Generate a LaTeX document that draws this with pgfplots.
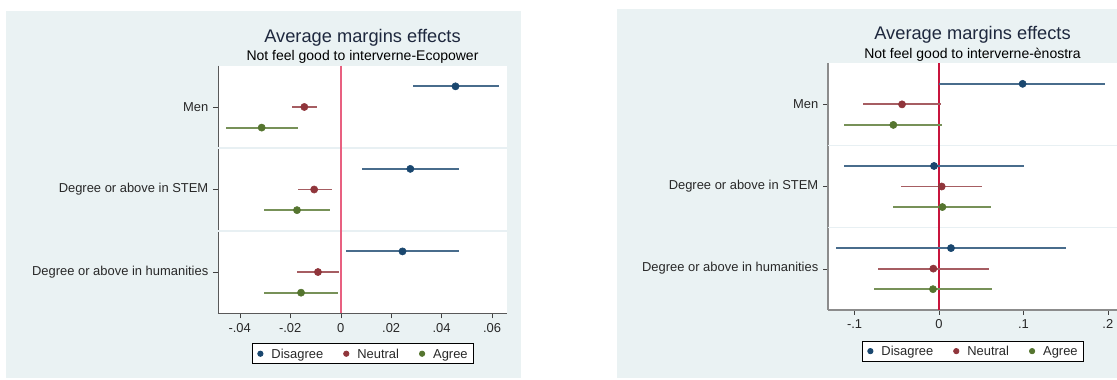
\documentclass[border=0pt]{standalone}
\usepackage{pgfplots}
\usepackage{pgfplotstable}
\pgfplotsset{compat=1.18}
\usepackage{fontspec}
\setmainfont{Liberation Sans}

\definecolor{bgc}{RGB}{234,242,243}
\definecolor{sepc}{RGB}{232,240,243}
\definecolor{dis}{RGB}{26,71,111}
\definecolor{neu}{RGB}{144,53,59}
\definecolor{agr}{RGB}{85,117,47}
\definecolor{titlec}{RGB}{30,40,62}
\definecolor{labc}{RGB}{40,40,40}

% estimate and 95% bounds, rows: 0 = Men, 1 = STEM, 2 = humanities
\pgfplotstableread{
row dis dislo dishi neu neulo neuhi agr agrlo agrhi
0 0.0455 0.0285 0.0627 -0.0144 -0.0194 -0.0094 -0.0313 -0.0453 -0.0170
1 0.0276 0.0084 0.0468 -0.0105 -0.0170 -0.0036 -0.0173 -0.0302 -0.0042
2 0.0245 0.0022 0.0470 -0.0090 -0.0173 -0.0007 -0.0157 -0.0302 -0.0012
}\ecopower

\pgfplotstableread{
row dis dislo dishi neu neulo neuhi agr agrlo agrhi
0 0.0991 0.0002 0.1970 -0.0438 -0.0897 0.0020 -0.0541 -0.1122 0.0032
1 -0.0059 -0.1120 0.1007 0.0032 -0.0454 0.0513 0.0040 -0.0545 0.0620
2 0.0142 -0.1217 0.1500 -0.0067 -0.0726 0.0596 -0.0071 -0.0770 0.0628
}\enostra

\pgfplotsset{
  margins/.style={
    scale only axis,
    width=216.75pt,
    axis x line*=bottom,
    axis y line*=left,
    axis background/.style={fill=white},
    y dir=reverse,
    ymin=-0.5, ymax=2.5,
    ytick={0,1,2},
    yticklabels={Men,Degree or above in STEM,Degree or above in humanities},
    scaled x ticks=false,
    tick align=outside,
    major tick length=3.75pt,
    tick style={color=black!75},
    ticklabel style={font=\fontsize{9.7}{11}\selectfont, text=labc},
    extra y ticks={0.5,1.5},
    extra y tick labels={},
    extra y tick style={major tick length=0pt, grid=major,
      grid style={color=sepc, line width=1.2pt}},
    clip=false,
    legend columns=3,
    legend image code/.code={\fill[##1] (0pt,0pt) circle (2pt);},
    legend style={draw=black, line width=0.6pt, fill=white,
      at={(0.5,0)}, anchor=north, yshift=-22.5pt,
      font=\fontsize{9.7}{11}\selectfont, text=labc,
      inner xsep=4pt, inner ysep=4pt,
      nodes={inner sep=0pt, text depth=0pt},
      /tikz/every odd column/.append style={column sep=6pt},
      /tikz/every even column/.append style={column sep=15pt}},
  },
  ci/.style={only marks, mark=*, mark size=2.7pt,
    error bars/.cd, x dir=both, x explicit, error mark=none,
    error bar style={line width=1.4pt, #1!80!white}},
}

\newcommand{\series}[3]{%
  \addplot[#1, forget plot, ci=#1] table[x=#1,
    y expr=\thisrow{row}+#2,
    x error plus expr=\thisrow{#1hi}-\thisrow{#1},
    x error minus expr=\thisrow{#1}-\thisrow{#1lo}] {#3};}

\begin{document}
\begin{tikzpicture}
\useasboundingbox (0,0) rectangle (837.75pt,284.25pt);
\fill[bgc] (4.5pt,0.75pt) rectangle (390.75pt,276pt);
\fill[bgc] (462.75pt,0.75pt) rectangle (837.75pt,277.5pt);

\begin{axis}[margins,
  at={(163.5pt,49.275pt)}, anchor=south west,
  height=185.7pt,
  xmin=-0.0486, xmax=0.0659,
  xtick={-0.04,-0.02,0,0.02,0.04,0.06},
  xticklabels={-.04,-.02,0,.02,.04,.06},
  axis line style={color=black!65, line width=0.7pt},
]
\draw[color={rgb,255:red,232;green,96;blue,128}, line width=1.4pt]
  (axis cs:0,-0.5) -- (axis cs:0,2.5);
\series{dis}{-0.25}{\ecopower}
\series{neu}{0}{\ecopower}
\series{agr}{0.25}{\ecopower}
\addlegendimage{dis}\addlegendentry{Disagree}
\addlegendimage{neu}\addlegendentry{Neutral}
\addlegendimage{agr}\addlegendentry{Agree}
\node[anchor=base, text=titlec, font=\fontsize{13.7}{16}\selectfont, yshift=17.5pt]
  at (axis description cs:0.5,1) {Average margins effects};
\node[anchor=base, text=black, font=\fontsize{10.5}{12}\selectfont, yshift=3.75pt]
  at (axis description cs:0.5,1) {Not feel good to interverne-Ecopower};
\end{axis}

\begin{axis}[margins,
  at={(621pt,51.975pt)}, anchor=south west,
  height=184.8pt,
  xmin=-0.1315, xmax=0.2109,
  xtick={-0.1,0,0.1,0.2},
  xticklabels={-.1,0,.1,.2},
  axis line style={color=black!45, line width=1.2pt},
  legend style={yshift=-0.75pt},
]
\draw[color={rgb,255:red,200;green,20;blue,60}, line width=0.9pt]
  (axis cs:0,-0.5) -- (axis cs:0,2.5);
\series{dis}{-0.25}{\enostra}
\series{neu}{0}{\enostra}
\series{agr}{0.25}{\enostra}
\addlegendimage{dis}\addlegendentry{Disagree}
\addlegendimage{neu}\addlegendentry{Neutral}
\addlegendimage{agr}\addlegendentry{Agree}
\node[anchor=base, text=titlec, font=\fontsize{13.7}{16}\selectfont, yshift=17.6pt]
  at (axis description cs:0.5,1) {Average margins effects};
\node[anchor=base, text=black, font=\fontsize{10.5}{12}\selectfont, yshift=3.75pt]
  at (axis description cs:0.5,1) {Not feel good to interverne-ènostra};
\end{axis}
\end{tikzpicture}
\end{document}
